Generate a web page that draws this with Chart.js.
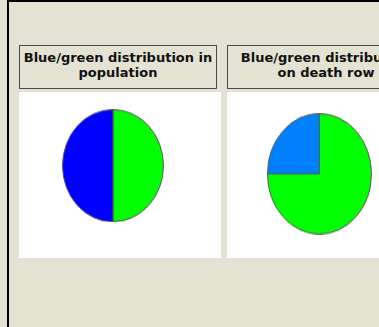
<!DOCTYPE html>
<html>
<head>
<meta charset="utf-8">
<script src="https://cdn.jsdelivr.net/npm/chart.js@4/dist/chart.umd.min.js"></script>
<style>
  body { margin: 0; width: 379px; height: 327px; overflow: hidden; background: #e4e2d2; position: relative; }
  .frame { position: absolute; left: 7px; top: 0; width: 400px; height: 340px; border-left: 2px solid #000; border-top: 2px solid #000; }
  .title { position: absolute; top: 45px; width: 196px; height: 38px; border: 1px solid #4a4a4a;
    font: bold 13px "DejaVu Sans", Verdana, sans-serif; line-height: 15px; text-align: center;
    color: #111; padding-top: 4px; box-sizing: content-box; white-space: nowrap; }
  .panel { position: absolute; top: 92px; width: 202px; height: 166px; background: #fff; }
  .pie { position: absolute; transform-origin: 0 0; }
</style>
</head>
<body>
<div class="frame"></div>
<div class="title" style="left:19px">Blue/green distribution in<br>population</div>
<div class="title" style="left:227px">Blue/green distribution<br>on death row</div>
<div class="panel" style="left:19px"></div>
<div class="panel" style="left:227px"></div>
<div class="pie" id="p1" style="left:62px;top:109px;width:102px;height:102px;transform:scaleY(1.111)"><canvas id="c1" width="102" height="102"></canvas></div>
<div class="pie" id="p2" style="left:267px;top:113px;width:105px;height:105px;transform:scaleY(1.159)"><canvas id="c2" width="105" height="105"></canvas></div>
<script>
const labels = ["Green", "Blue"];
const populationValues = [50, 50];
const deathRowValues = [75, 25];
const populationColors = ["#00ff00", "#0000ff"];
const deathRowColors = ["#00ff00", "#0080ff"];

function makePie(id, values, colors) {
  new Chart(document.getElementById(id), {
    type: "pie",
    data: {
      labels,
      datasets: [{ data: values, backgroundColor: colors, borderColor: "#5a5a5a", borderWidth: 1 }]
    },
    options: {
      responsive: false,
      animation: false,
      layout: { padding: 0 },
      plugins: { legend: { display: false }, tooltip: { enabled: false } }
    }
  });
}

makePie("c1", populationValues, populationColors);
makePie("c2", deathRowValues, deathRowColors);
</script>
</body>
</html>
